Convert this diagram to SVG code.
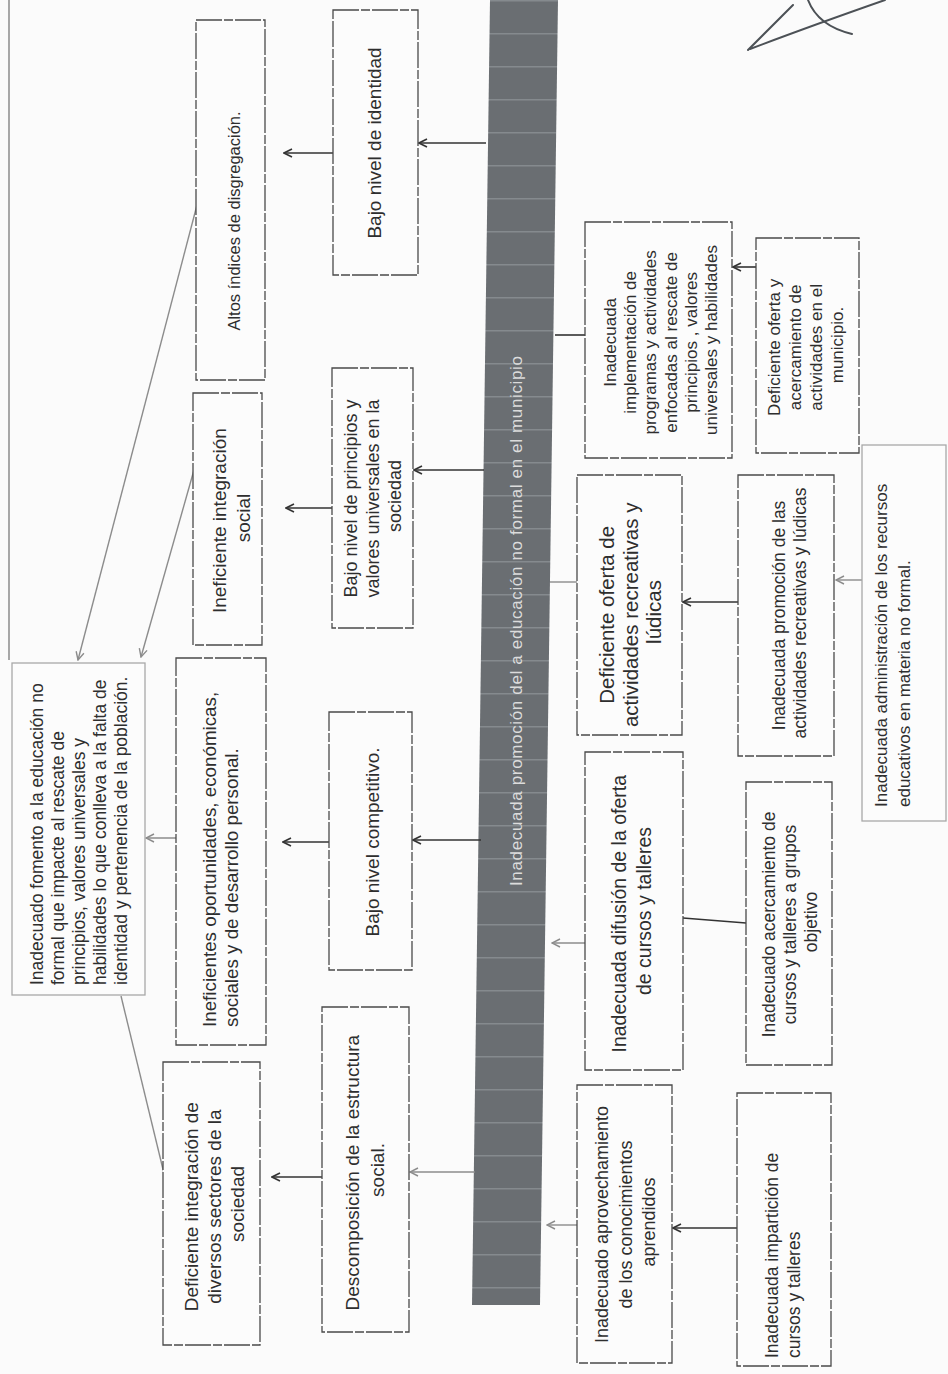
<svg xmlns="http://www.w3.org/2000/svg" width="948" height="1374" viewBox="0 0 948 1374">
<style>
  .bx{fill:#fcfcfc;stroke:#4a4a4a;stroke-width:1.3;stroke-dasharray:26 2 9 2}
  .lt{fill:#fcfcfc;stroke:#a8a8a8;stroke-width:1.3}
  .t{font-family:"Liberation Sans",Arial,sans-serif;fill:#2e2e2e}
  .c{text-anchor:middle}
  .s{text-anchor:start}
  .ln{fill:none;stroke:#333;stroke-width:1.6}
  .lg{fill:none;stroke:#8c8c8c;stroke-width:1.4}
</style>
<defs>
  <marker id="ahD" viewBox="0 0 10 10" refX="9" refY="5" markerWidth="10" markerHeight="10" orient="auto" markerUnits="userSpaceOnUse">
    <path d="M1,1 L9,5 L1,9" fill="none" stroke="#333" stroke-width="1.6"/>
  </marker>
  <marker id="ahG" viewBox="0 0 10 10" refX="9" refY="5" markerWidth="10" markerHeight="10" orient="auto" markerUnits="userSpaceOnUse">
    <path d="M1,1 L9,5 L1,9" fill="none" stroke="#8c8c8c" stroke-width="1.4"/>
  </marker>
  <pattern id="stripes" width="10" height="33" patternUnits="userSpaceOnUse">
    <rect width="10" height="33" fill="#6a6e72"/>
    <rect y="0" width="10" height="1.5" fill="#858a8e"/>
  </pattern>
</defs>
<rect width="948" height="1374" fill="#fbfbfb"/>

<!-- page border line and handwritten mark -->
<line x1="9" y1="0" x2="9" y2="660" stroke="#7a7a7a" stroke-width="1.3"/>
<g id="mark" fill="none" stroke="#4c5156" stroke-width="2" stroke-linecap="round">
  <path d="M748,50 L793,5"/>
  <path d="M750,49 Q805,28 885,0"/>
  <path d="M808,0 Q818,26 852,34"/>
</g>

<!-- central problem bar -->
<g id="problem">
  <polygon points="490,0 558,0 540,1305 472,1305" fill="url(#stripes)"/>
  <text class="t c" transform="translate(522,621) rotate(-90)" font-size="17" fill="#dcdcdc" style="fill:#dcdcdc" textLength="530" lengthAdjust="spacing">Inadecuada promoción del a educación no formal en el municipio</text>
</g>

<!-- connectors -->
<g id="connectors">
  <line class="ln" x1="486" y1="143" x2="419" y2="143" marker-end="url(#ahD)"/>
  <line class="ln" x1="333" y1="153" x2="284" y2="153" marker-end="url(#ahD)"/>
  <line class="ln" x1="484" y1="470" x2="414" y2="470" marker-end="url(#ahD)"/>
  <line class="ln" x1="332" y1="508" x2="286" y2="508" marker-end="url(#ahD)"/>
  <line class="ln" x1="481" y1="840" x2="413" y2="840" marker-end="url(#ahD)"/>
  <line class="ln" x1="329" y1="842" x2="283" y2="842" marker-end="url(#ahD)"/>
  <line class="lg" x1="475" y1="1172" x2="410" y2="1172" marker-end="url(#ahG)"/>
  <line class="ln" x1="322" y1="1177" x2="272" y2="1177" marker-end="url(#ahD)"/>
  <line class="lg" x1="180" y1="838" x2="146" y2="838" marker-end="url(#ahG)"/>
  <line class="lg" x1="197" y1="205" x2="78" y2="660" marker-end="url(#ahG)"/>
  <line class="lg" x1="194" y1="470" x2="141" y2="657" marker-end="url(#ahG)"/>
  <line class="lg" x1="168" y1="1190" x2="121" y2="996"/>

  <line class="ln" x1="585" y1="335" x2="555" y2="335"/>
  <line class="ln" x1="756" y1="267" x2="733" y2="267" marker-end="url(#ahD)"/>
  <line class="lg" x1="577" y1="582" x2="550" y2="582"/>
  <line class="ln" x1="738" y1="602" x2="683" y2="602" marker-end="url(#ahD)"/>
  <line class="lg" x1="862" y1="580" x2="836" y2="580" marker-end="url(#ahG)"/>
  <line class="lg" x1="585" y1="943" x2="552" y2="943" marker-end="url(#ahG)"/>
  <line class="ln" x1="746" y1="923" x2="683" y2="918"/>
  <line class="lg" x1="577" y1="1225" x2="547" y2="1225" marker-end="url(#ahG)"/>
  <line class="ln" x1="737" y1="1228" x2="673" y2="1228" marker-end="url(#ahD)"/>
</g>

<!-- effects -->
<g id="n_fomento">
  <rect class="lt" x="12" y="663" width="133" height="332"/>
  <text class="t s" font-size="17.5" transform="translate(43,985) rotate(-90)">
    <tspan x="0" y="0">Inadecuado fomento a la educación no</tspan>
    <tspan x="0" dy="21">formal que impacte al rescate de</tspan>
    <tspan x="0" dy="21">principios, valores universales y</tspan>
    <tspan x="0" dy="21">habilidades lo que conlleva a la falta de</tspan>
    <tspan x="0" dy="21">identidad y pertenencia de la población.</tspan>
  </text>
</g>
<g id="n_altos">
  <rect class="bx" x="196" y="20" width="69" height="360"/>
  <text class="t c" font-size="16.5" transform="translate(240,221) rotate(-90)">Altos índices de disgregación.</text>
</g>
<g id="n_inef_integ">
  <rect class="bx" x="193" y="393" width="69" height="252"/>
  <text class="t c" font-size="19" transform="translate(226,518) rotate(-90)">
    <tspan x="0" y="0">Ineficiente integración</tspan>
    <tspan x="0" dy="24">social</tspan>
  </text>
</g>
<g id="n_inef_oport">
  <rect class="bx" x="176" y="658" width="90" height="387"/>
  <text class="t s" font-size="18.8" transform="translate(216,1027) rotate(-90)">
    <tspan x="0" y="0">Ineficientes oportunidades, económicas,</tspan>
    <tspan x="0" dy="22">sociales y de desarrollo personal.</tspan>
  </text>
</g>
<g id="n_def_integ">
  <rect class="bx" x="163" y="1062" width="97" height="283"/>
  <text class="t c" font-size="19" transform="translate(198,1204) rotate(-90)">
    <tspan x="0" y="0">Deficiente integración de</tspan>
    <tspan x="0" dy="23">diversos sectores de la</tspan>
    <tspan x="0" dy="23">sociedad</tspan>
  </text>
</g>
<g id="n_bajo_ident">
  <rect class="bx" x="333" y="10" width="85" height="265"/>
  <text class="t c" font-size="19" transform="translate(381,143) rotate(-90)">Bajo nivel de identidad</text>
</g>
<g id="n_bajo_princ">
  <rect class="bx" x="332" y="368" width="81" height="260"/>
  <text class="t c" font-size="18" transform="translate(357,496) rotate(-90)">
    <tspan x="0" y="0">Bajo nivel de principios y</tspan>
    <tspan x="0" dy="22">valores universales en la</tspan>
    <tspan x="0" dy="22">sociedad</tspan>
  </text>
</g>
<g id="n_bajo_comp">
  <rect class="bx" x="329" y="712" width="83" height="258"/>
  <text class="t c" font-size="19" transform="translate(379,842) rotate(-90)">Bajo nivel competitivo.</text>
</g>
<g id="n_descomp">
  <rect class="bx" x="322" y="1007" width="87" height="325"/>
  <text class="t c" font-size="19" transform="translate(359,1170) rotate(-90)">
    <tspan x="0" y="0">Descomposición de la estructura</tspan>
    <tspan x="0" dy="25">social.</tspan>
  </text>
</g>

<!-- causes -->
<g id="n_implem">
  <rect class="bx" x="585" y="222" width="147" height="236"/>
  <text class="t c" font-size="17" transform="translate(616,340) rotate(-90)">
    <tspan x="0" y="0">Inadecuada</tspan>
    <tspan x="0" dy="20.2">implementación de</tspan>
    <tspan x="0" dy="20.2">programas y actividades</tspan>
    <tspan x="0" dy="20.2">enfocadas al rescate de</tspan>
    <tspan x="0" dy="20.2">principios , valores</tspan>
    <tspan x="0" dy="20.2">universales y habilidades</tspan>
  </text>
</g>
<g id="n_def_acerc">
  <rect class="bx" x="756" y="238" width="103" height="215"/>
  <text class="t c" font-size="17" transform="translate(780,345) rotate(-90)">
    <tspan x="0" y="0">Deficiente oferta y</tspan>
    <tspan x="0" dy="21">acercamiento de</tspan>
    <tspan x="0" dy="21">actividades en el</tspan>
    <tspan x="0" dy="21">municipio.</tspan>
  </text>
</g>
<g id="n_def_recre">
  <rect class="bx" x="577" y="475" width="105" height="260"/>
  <text class="t c" font-size="20.5" transform="translate(614,612) rotate(-90)">
    <tspan x="0" y="0">Deficiente oferta de</tspan>
    <tspan x="0" dy="23.5">actividades recreativas y</tspan>
    <tspan x="0" dy="23.5">lúdicas</tspan>
  </text>
</g>
<g id="n_difus">
  <rect class="bx" x="585" y="752" width="98" height="318"/>
  <text class="t c" font-size="19.5" transform="translate(626,911) rotate(-90)">
    <tspan x="0" y="0">Inadecuada difusión de la oferta</tspan>
    <tspan x="0" dy="25">de cursos y talleres</tspan>
  </text>
</g>
<g id="n_aprov">
  <rect class="bx" x="577" y="1085" width="95" height="278"/>
  <text class="t c" font-size="18" transform="translate(608,1222) rotate(-90)">
    <tspan x="0" y="0">Inadecuado aprovechamiento</tspan>
    <tspan x="0" dy="23.5">de los conocimientos</tspan>
    <tspan x="0" dy="23.5">aprendidos</tspan>
  </text>
</g>
<g id="n_promo">
  <rect class="bx" x="738" y="475" width="96" height="281"/>
  <text class="t c" font-size="17.5" transform="translate(785,613) rotate(-90)">
    <tspan x="0" y="0">Inadecuada promoción de las</tspan>
    <tspan x="0" dy="21">actividades recreativas y lúdicas</tspan>
  </text>
</g>
<g id="n_acerc_cursos">
  <rect class="bx" x="746" y="782" width="86" height="283"/>
  <text class="t c" font-size="17.5" transform="translate(775,922) rotate(-90)">
    <tspan x="0" y="0">Inadecuado acercamiento de</tspan>
    <tspan x="0" dy="21">cursos y talleres a grupos</tspan>
    <tspan x="0" dy="21">objetivo</tspan>
  </text>
</g>
<g id="n_impart">
  <rect class="bx" x="737" y="1093" width="94" height="273"/>
  <text class="t s" font-size="17.5" transform="translate(778,1358) rotate(-90)">
    <tspan x="0" y="0">Inadecuada impartición de</tspan>
    <tspan x="0" dy="22">cursos y talleres</tspan>
  </text>
</g>
<g id="n_admin">
  <rect class="lt" x="862" y="445" width="84" height="376"/>
  <text class="t s" font-size="17" transform="translate(887,807) rotate(-90)">
    <tspan x="0" y="0">Inadecuada administración de los recursos</tspan>
    <tspan x="0" dy="23">educativos en materia no formal.</tspan>
  </text>
</g>
</svg>
